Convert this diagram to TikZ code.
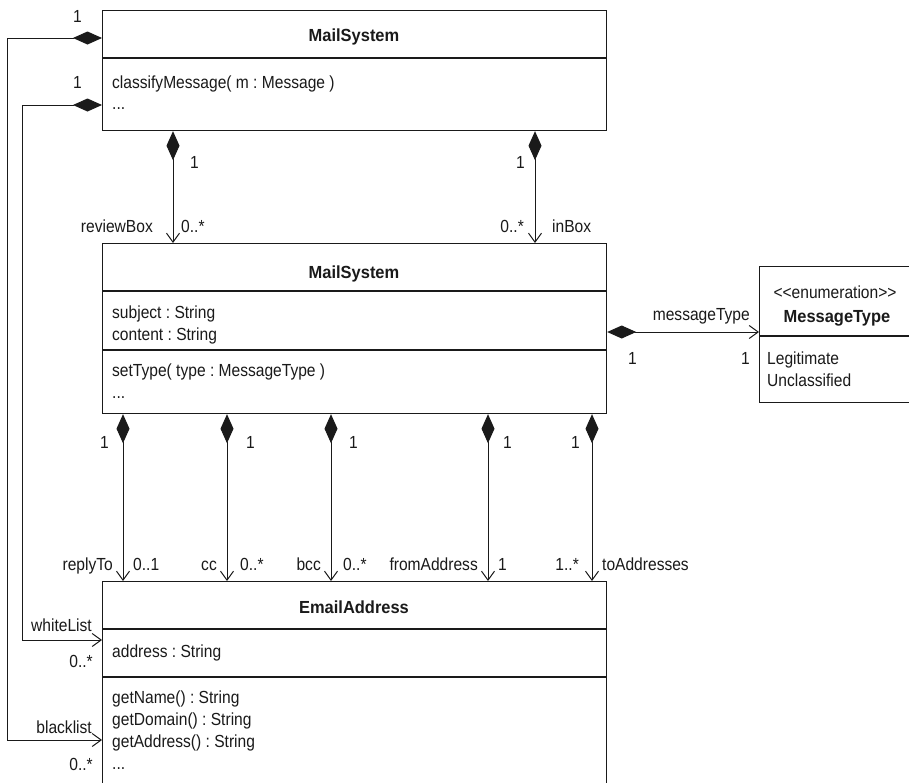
\documentclass[tikz,border=0pt]{standalone}
\usepackage{fontspec}
\setmainfont{Liberation Sans}[FakeStretch=0.89]
\newfontfamily\titlefont{Liberation Sans}[FakeStretch=0.94]
\usetikzlibrary{arrows.meta}
\definecolor{ink}{HTML}{1A1A1A}
\tikzset{
  box/.style={draw=ink, line width=1.2pt, inner sep=0pt, anchor=north west},
  sep/.style={draw=ink, line width=1.2pt},
  txt/.style={inner sep=0pt, anchor=base west, text=ink, font=\frenchspacing\fontsize{17.5}{20}\selectfont},
  txtr/.style={txt, anchor=base east},
  ttl/.style={inner sep=0pt, anchor=base, text=ink, font=\titlefont\bfseries\fontsize{17.5}{20}\selectfont},
  comp/.style={draw=ink, line width=1pt,
    {Diamond[length=29pt,width=13pt]}-{Straight Barb[length=9pt,width=13pt,line width=1pt]}},
}
\begin{document}
\begin{tikzpicture}[x=1pt,y=-1pt]
\useasboundingbox (0,0) rectangle (909,782);
\clip (0,0) rectangle (909,782);
\fill[white] (0,0) rectangle (909,782);

% column / row helper coordinates
\coordinate (cA) at (173,0);
\coordinate (cB) at (535,0);
\coordinate (c1) at (123,0);
\coordinate (c2) at (227,0);
\coordinate (c3) at (331,0);
\coordinate (c4) at (488,0);
\coordinate (c5) at (592,0);
\coordinate (xo) at (7,0);
\coordinate (xi) at (22,0);
\coordinate (yT1) at (0,38);
\coordinate (yT2) at (0,105);
\coordinate (yW) at (0,640);
\coordinate (yB) at (0,740);
\coordinate (yM) at (0,332);

% boxes
\node[box, minimum width=504pt, minimum height=120pt] (top) at (102,10) {};
\node[box, minimum width=504pt, minimum height=170pt] (mid) at (102,243) {};
\node[box, minimum width=151pt, minimum height=136pt] (mt) at (759,266) {};
\node[box, minimum width=504pt, minimum height=240pt] (ea) at (102,581) {};

% compartments
\draw[sep] (top.west |- 0,58) -- (top.east |- 0,58);
\draw[sep] (mid.west |- 0,291) -- (mid.east |- 0,291);
\draw[sep] (mid.west |- 0,350) -- (mid.east |- 0,350);
\draw[sep] (mt.west |- 0,336) -- (mt.east |- 0,336);
\draw[sep] (ea.west |- 0,629) -- (ea.east |- 0,629);
\draw[sep] (ea.west |- 0,677) -- (ea.east |- 0,677);

% texts in boxes
\node[ttl] (tTop) at (354,41) {MailSystem};
\node[txt] (tTop1) at (112,88) {classifyMessage( m : Message )};
\node[txt] (tTop2) at (112,109) {...};

\node[ttl] (tMid) at (354,278) {MailSystem};
\node[txt] (tMid1) at (112,318) {subject : String};
\node[txt] (tMid2) at (112,340) {content : String};
\node[txt] (tMid3) at (112,376) {setType( type : MessageType )};
\node[txt] (tMid4) at (112,398) {...};

\node[txt, anchor=base] (tMt0) at (835,298) {<\kern0pt<enumeration>\kern0pt>};
\node[ttl] (tMt) at (837,322) {MessageType};
\node[txt] (tMt1) at (767,364) {Legitimate};
\node[txt] (tMt2) at (767,386) {Unclassified};

\node[ttl] (tEa) at (354,613) {EmailAddress};
\node[txt] (tEa1) at (112,657) {address : String};
\node[txt] (tEa2) at (112,703) {getName() : String};
\node[txt] (tEa3) at (112,725) {getDomain() : String};
\node[txt] (tEa4) at (112,747) {getAddress() : String};
\node[txt] (tEa5) at (112,769) {...};

% connectors top -> mid
\draw[comp] (top.south -| cA) -- (mid.north -| cA);
\draw[comp] (top.south -| cB) -- (mid.north -| cB);
\node[txt] (m1) at (190,168) {1};
\node[txt] (m2) at (516,168) {1};
\node[txtr] (r1) at (153,232) {reviewBox};
\node[txt] (r2) at (181,232) {0..*};
\node[txtr] (r3) at (524,232) {0..*};
\node[txt] (r4) at (552,232) {inBox};

% mid -> messagetype
\draw[comp] (mid.east |- yM) -- (mt.west |- yM);
\node[txtr] (mtl) at (750,320) {messageType};
\node[txt] (mt1) at (628,364) {1};
\node[txt] (mt2) at (741,364) {1};

% mid -> emailaddress
\draw[comp] (mid.south -| c1) -- (ea.north -| c1);
\draw[comp] (mid.south -| c2) -- (ea.north -| c2);
\draw[comp] (mid.south -| c3) -- (ea.north -| c3);
\draw[comp] (mid.south -| c4) -- (ea.north -| c4);
\draw[comp] (mid.south -| c5) -- (ea.north -| c5);
\node[txt] (b1) at (100,448) {1};
\node[txt] (b2) at (246,448) {1};
\node[txt] (b3) at (349,448) {1};
\node[txt] (b4) at (503,448) {1};
\node[txt] (b5) at (571,448) {1};
\node[txtr] (l1) at (113,570) {replyTo};
\node[txt] (l2) at (133,570) {0..1};
\node[txtr] (l3) at (217,570) {cc};
\node[txt] (l4) at (240,570) {0..*};
\node[txtr] (l5) at (321,570) {bcc};
\node[txt] (l6) at (343,570) {0..*};
\node[txtr] (l7) at (478,570) {fromAddress};
\node[txt] (l8) at (498,570) {1};
\node[txtr] (l9) at (579,570) {1..*};
\node[txt] (l10) at (602,570) {toAddresses};

% loops top -> emailaddress
\draw[comp] (top.west |- yT1) -- (xo |- yT1) -- (xo |- yB) -- (ea.west |- yB);
\draw[comp] (top.west |- yT2) -- (xi |- yT2) -- (xi |- yW) -- (ea.west |- yW);
\node[txt] (o1) at (73,22) {1};
\node[txt] (o2) at (73,88) {1};
\node[txtr] (w1) at (92,631) {whiteList};
\node[txtr] (w2) at (93,667) {0..*};
\node[txtr] (k1) at (92,733) {blacklist};
\node[txtr] (k2) at (93,770) {0..*};
\end{tikzpicture}
\end{document}
